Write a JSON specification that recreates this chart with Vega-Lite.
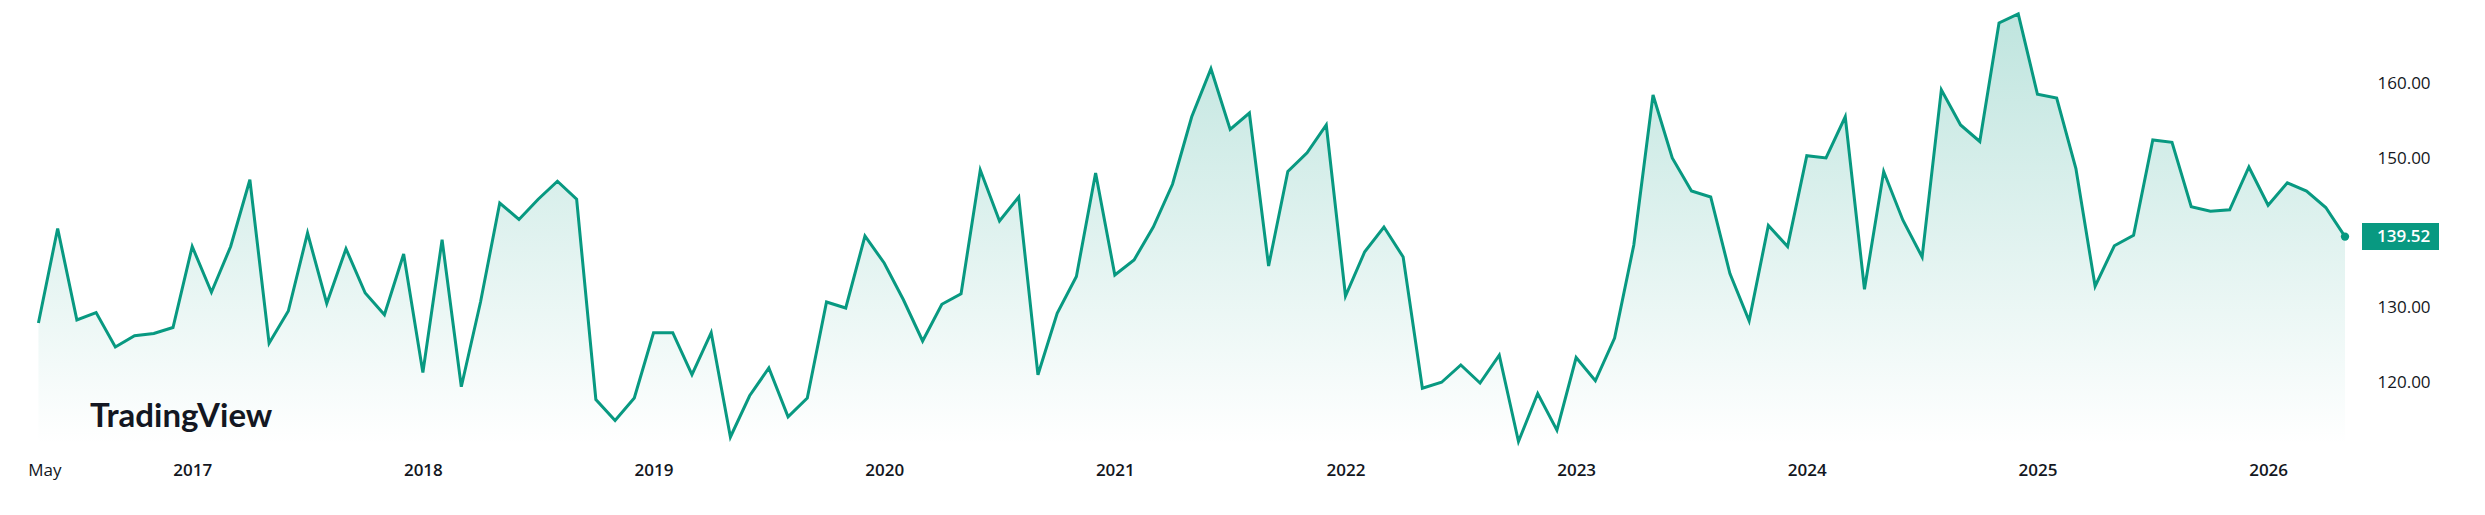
{
  "$schema": "https://vega.github.io/schema/vega-lite/v6.json",
  "width": 2345,
  "height": 445,
  "autosize": {"type": "none"},
  "padding": {"left": 0, "top": 0, "right": 140, "bottom": 70},
  "background": "#ffffff",
  "config": {"view": {"stroke": null}, "font": "Open Sans"},
  "title": {
    "text": "TradingView",
    "orient": "bottom",
    "frame": "group",
    "anchor": "start",
    "offset": -61,
    "dx": 90,
    "baseline": "middle",
    "font": "Lato",
    "fontSize": 33,
    "fontWeight": "bold",
    "color": "#131722"
  },
  "data": {
    "values": [
      {"month": "2016-05", "value": 128.0},
      {"month": "2016-06", "value": 140.6},
      {"month": "2016-07", "value": 128.4},
      {"month": "2016-08", "value": 129.4},
      {"month": "2016-09", "value": 124.8},
      {"month": "2016-10", "value": 126.3},
      {"month": "2016-11", "value": 126.6},
      {"month": "2016-12", "value": 127.4},
      {"month": "2017-01", "value": 138.2},
      {"month": "2017-02", "value": 132.1},
      {"month": "2017-03", "value": 138.2},
      {"month": "2017-04", "value": 147.1},
      {"month": "2017-05", "value": 125.3},
      {"month": "2017-06", "value": 129.6},
      {"month": "2017-07", "value": 140.0},
      {"month": "2017-08", "value": 130.6},
      {"month": "2017-09", "value": 137.9},
      {"month": "2017-10", "value": 132.0},
      {"month": "2017-11", "value": 129.1},
      {"month": "2017-12", "value": 137.2},
      {"month": "2018-01", "value": 121.4},
      {"month": "2018-02", "value": 139.1},
      {"month": "2018-03", "value": 119.5},
      {"month": "2018-04", "value": 130.8},
      {"month": "2018-05", "value": 144.0},
      {"month": "2018-06", "value": 141.8},
      {"month": "2018-07", "value": 144.5},
      {"month": "2018-08", "value": 146.9},
      {"month": "2018-09", "value": 144.5},
      {"month": "2018-10", "value": 117.8},
      {"month": "2018-11", "value": 115.0},
      {"month": "2018-12", "value": 118.0},
      {"month": "2019-01", "value": 126.7},
      {"month": "2019-02", "value": 126.7},
      {"month": "2019-03", "value": 121.1},
      {"month": "2019-04", "value": 126.7},
      {"month": "2019-05", "value": 112.8},
      {"month": "2019-06", "value": 118.3},
      {"month": "2019-07", "value": 122.0},
      {"month": "2019-08", "value": 115.5},
      {"month": "2019-09", "value": 118.0},
      {"month": "2019-10", "value": 130.8},
      {"month": "2019-11", "value": 130.0},
      {"month": "2019-12", "value": 139.6},
      {"month": "2020-01", "value": 136.0},
      {"month": "2020-02", "value": 131.1},
      {"month": "2020-03", "value": 125.6},
      {"month": "2020-04", "value": 130.5},
      {"month": "2020-05", "value": 131.9},
      {"month": "2020-06", "value": 148.4},
      {"month": "2020-07", "value": 141.6},
      {"month": "2020-08", "value": 144.8},
      {"month": "2020-09", "value": 121.1},
      {"month": "2020-10", "value": 129.3},
      {"month": "2020-11", "value": 134.2},
      {"month": "2020-12", "value": 148.0},
      {"month": "2021-01", "value": 134.4},
      {"month": "2021-02", "value": 136.4},
      {"month": "2021-03", "value": 140.8},
      {"month": "2021-04", "value": 146.5},
      {"month": "2021-05", "value": 155.5},
      {"month": "2021-06", "value": 161.9},
      {"month": "2021-07", "value": 153.8},
      {"month": "2021-08", "value": 156.0},
      {"month": "2021-09", "value": 135.6},
      {"month": "2021-10", "value": 148.2},
      {"month": "2021-11", "value": 150.7},
      {"month": "2021-12", "value": 154.4},
      {"month": "2022-01", "value": 131.6},
      {"month": "2022-02", "value": 137.5},
      {"month": "2022-03", "value": 140.8},
      {"month": "2022-04", "value": 136.8},
      {"month": "2022-05", "value": 119.3},
      {"month": "2022-06", "value": 120.1},
      {"month": "2022-07", "value": 122.4},
      {"month": "2022-08", "value": 120.0},
      {"month": "2022-09", "value": 123.7},
      {"month": "2022-10", "value": 112.2},
      {"month": "2022-11", "value": 118.6},
      {"month": "2022-12", "value": 113.7},
      {"month": "2023-01", "value": 123.4},
      {"month": "2023-02", "value": 120.3},
      {"month": "2023-03", "value": 126.0},
      {"month": "2023-04", "value": 138.4},
      {"month": "2023-05", "value": 158.4},
      {"month": "2023-06", "value": 150.0},
      {"month": "2023-07", "value": 145.6},
      {"month": "2023-08", "value": 144.8},
      {"month": "2023-09", "value": 134.6},
      {"month": "2023-10", "value": 128.3},
      {"month": "2023-11", "value": 141.0},
      {"month": "2023-12", "value": 138.2},
      {"month": "2024-01", "value": 150.3},
      {"month": "2024-02", "value": 150.0},
      {"month": "2024-03", "value": 155.5},
      {"month": "2024-04", "value": 132.5},
      {"month": "2024-05", "value": 148.2},
      {"month": "2024-06", "value": 141.7},
      {"month": "2024-07", "value": 136.8},
      {"month": "2024-08", "value": 159.1},
      {"month": "2024-09", "value": 154.4},
      {"month": "2024-10", "value": 152.2},
      {"month": "2024-11", "value": 168.0},
      {"month": "2024-12", "value": 169.2},
      {"month": "2025-01", "value": 158.5},
      {"month": "2025-02", "value": 158.0},
      {"month": "2025-03", "value": 148.6},
      {"month": "2025-04", "value": 132.9},
      {"month": "2025-05", "value": 138.3},
      {"month": "2025-06", "value": 139.7},
      {"month": "2025-07", "value": 152.4},
      {"month": "2025-08", "value": 152.1},
      {"month": "2025-09", "value": 143.5},
      {"month": "2025-10", "value": 142.9},
      {"month": "2025-11", "value": 143.1},
      {"month": "2025-12", "value": 148.8},
      {"month": "2026-01", "value": 143.7},
      {"month": "2026-02", "value": 146.7},
      {"month": "2026-03", "value": 145.6},
      {"month": "2026-04", "value": 143.4},
      {"month": "2026-05", "value": 139.52}
    ]
  },
  "encoding": {
    "x": {
      "field": "month",
      "type": "ordinal",
      "scale": {"type": "point", "padding": 1, "align": 1},
      "axis": {
        "title": null,
        "domain": false,
        "ticks": false,
        "tickSize": 0,
        "grid": false,
        "labelPadding": 25,
        "labelBaseline": "middle",
        "labelAngle": 0,
        "labelOverlap": false,
        "labelFont": "Open Sans",
        "labelFontSize": 17,
        "labelColor": "#131722",
        "labelOffset": {"condition": {"test": "datum.value == '2016-05'", "value": 6}, "value": 0},
        "labelFontWeight": {"condition": {"test": "datum.value == '2016-05'", "value": 400}, "value": 600},
        "labelExpr": "slice(datum.value, 5) == '01' ? slice(datum.value, 0, 4) : (datum.value == '2016-05' ? 'May' : '')"
      }
    },
    "y": {
      "field": "value",
      "type": "quantitative",
      "scale": {"domain": [111.733, 171.067], "nice": false, "zero": false, "clamp": true},
      "axis": {
        "orient": "right",
        "title": null,
        "domain": false,
        "ticks": false,
        "tickSize": 0,
        "grid": false,
        "values": [120, 130, 150, 160],
        "format": ".2f",
        "labelPadding": 32,
        "labelFont": "Open Sans",
        "labelFontSize": 17,
        "labelColor": "#131722"
      }
    }
  },
  "layer": [
    {
      "mark": {
        "type": "area",
        "fill": {
          "gradient": "linear",
          "x1": 0, "y1": 0, "x2": 0, "y2": 1,
          "stops": [
            {"offset": 0, "color": "rgba(8,153,129,0.26)"},
            {"offset": 1, "color": "rgba(8,153,129,0.0)"}
          ]
        }
      }
    },
    {
      "mark": {"type": "line", "color": "#089981", "strokeWidth": 3}
    },
    {
      "transform": [{"filter": "datum.month == '2026-05'"}],
      "mark": {"type": "point", "filled": true, "color": "#089981", "size": 70, "opacity": 1}
    },
    {
      "transform": [{"filter": "datum.month == '2026-05'"}],
      "mark": {
        "type": "point",
        "shape": "M-1,-0.351L1,-0.351L1,0.351L-1,0.351Z",
        "size": 5929,
        "filled": true,
        "color": "#089981",
        "opacity": 1,
        "xOffset": 55.5
      }
    },
    {
      "transform": [{"filter": "datum.month == '2026-05'"}],
      "mark": {
        "type": "text",
        "color": "#ffffff",
        "font": "Open Sans",
        "fontSize": 17,
        "fontWeight": 600,
        "align": "left",
        "baseline": "middle",
        "xOffset": 32
      },
      "encoding": {"text": {"field": "value", "type": "quantitative", "format": ".2f"}}
    }
  ]
}
